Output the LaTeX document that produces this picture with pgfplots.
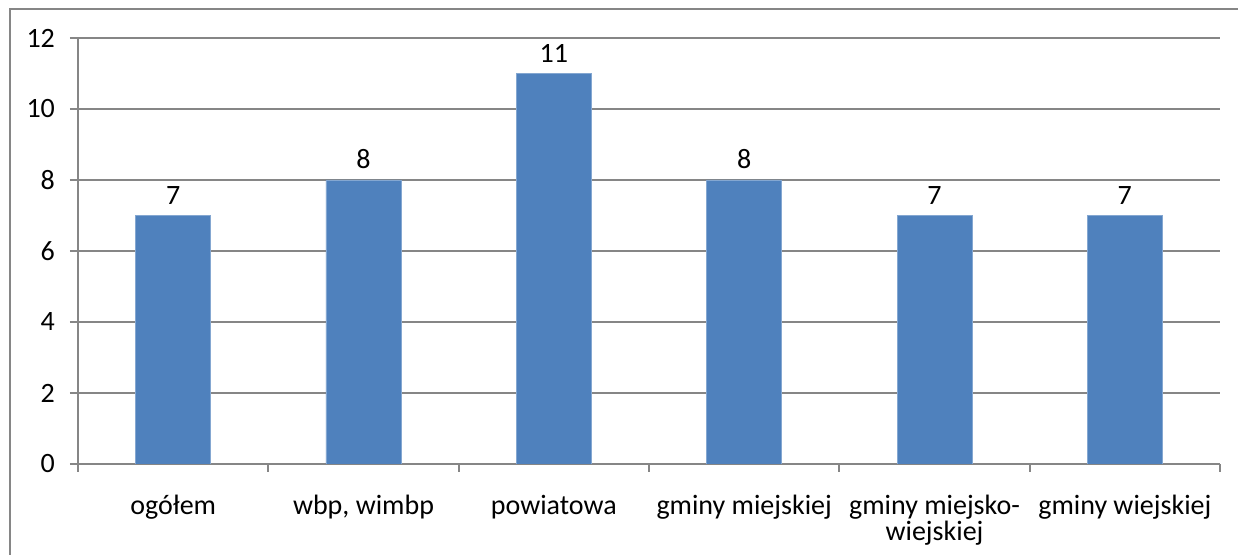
\documentclass[border=0pt]{standalone}
\usepackage{pgfplots}
\pgfplotsset{compat=1.18}
\usepackage{fontspec}
\setmainfont{Carlito}
\definecolor{barblue}{HTML}{4F81BD}
\definecolor{gridgray}{HTML}{868686}
\begin{document}
\begin{tikzpicture}
\useasboundingbox (0,0) rectangle (619pt,277.5pt);
\clip (0,0) rectangle (619pt,277.5pt);
\draw[gridgray, line width=1pt] (5pt,-20pt) rectangle (640pt,273pt);
\begin{axis}[
    at={(39pt,45.5pt)}, anchor=south west,
    scale only axis,
    width=571pt, height=213pt,
    ybar, bar width=37.5pt,
    xmin=-0.5, xmax=5.5,
    ymin=0, ymax=12,
    ytick={0,2,...,12},
    xtick={0,...,5},
    xticklabels={ogółem, {wbp, wimbp}, powiatowa, gminy miejskiej, gminy miejsko-\\wiejskiej, gminy wiejskiej},
    minor xtick={-0.5,0.5,...,5.5},
    axis x line=bottom, axis y line=left,
    axis line style={-, gridgray, line width=1pt},
    tick align=outside,
    major tick length=4pt, minor tick length=4pt,
    tick style={gridgray, line width=1pt},
    major x tick style={draw=none},
    ymajorgrids,
    grid style={gridgray, line width=1pt},
    /pgf/number format/assume math mode=true,
    tick label style={font=\fontsize{14}{13}\selectfont},
    xticklabel style={align=center, yshift=-8pt},
    yticklabel style={xshift=-4pt},
    nodes near coords,
    nodes near coords style={font=\fontsize{14}{13}\selectfont, black, yshift=2pt},
]
\addplot[fill=barblue, draw=barblue!70!white] coordinates {
    (0,7) (1,8) (2,11) (3,8) (4,7) (5,7)
};
\end{axis}
\end{tikzpicture}
\end{document}
